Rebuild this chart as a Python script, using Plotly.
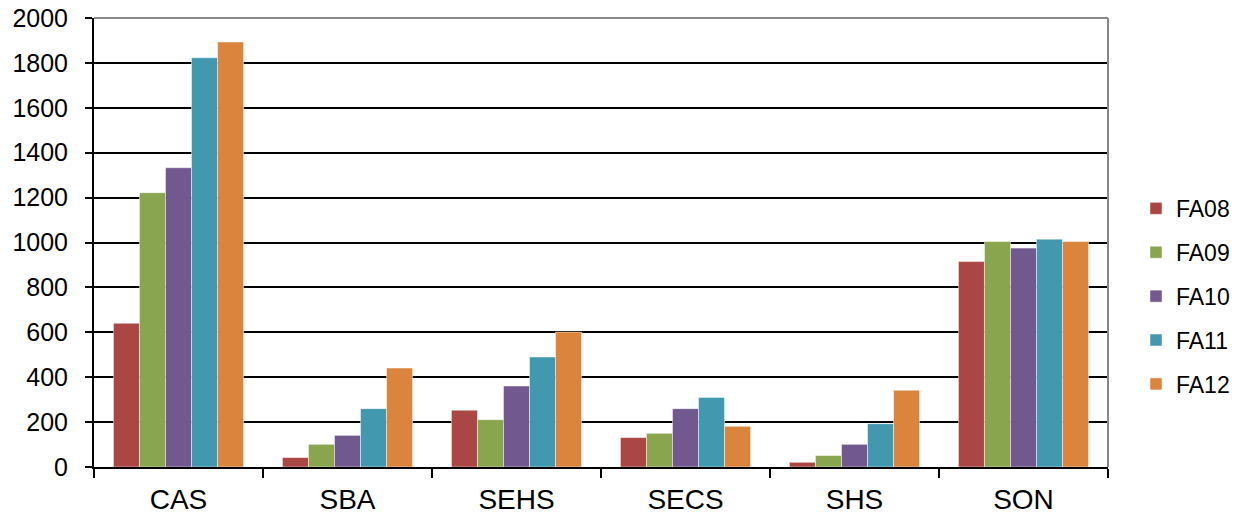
import plotly.graph_objects as go

categories = ["CAS", "SBA", "SEHS", "SECS", "SHS", "SON"]
series_names = ["FA08", "FA09", "FA10", "FA11", "FA12"]
fa08 = [640, 42, 253, 131, 21, 915]
fa09 = [1222, 101, 211, 150, 51, 1004]
fa10 = [1333, 141, 361, 260, 101, 975]
fa11 = [1823, 260, 490, 310, 193, 1015]
fa12 = [1893, 441, 601, 181, 342, 1004]
y_ticks = [0, 200, 400, 600, 800, 1000, 1200, 1400, 1600, 1800, 2000]

colors = ["#AA4643", "#89A54E", "#71588F", "#4198AF", "#DB843D"]
series = [fa08, fa09, fa10, fa11, fa12]

fig = go.Figure()
for name, vals, col in zip(series_names, series, colors):
    fig.add_trace(go.Bar(
        x=categories, y=vals, name=name, legendgroup=name,
        marker=dict(color=col, line=dict(color="rgba(255,255,255,0.6)", width=0.8)),
    ))

font_family = "Liberation Sans, Arial, sans-serif"
fig.update_layout(
    width=1242, height=519,
    margin=dict(l=94, r=134, t=18, b=52, autoexpand=False),
    paper_bgcolor="white", plot_bgcolor="white",
    barmode="group", bargap=0.23, bargroupgap=0,
    font=dict(family=font_family, color="black"),
    showlegend=True,
    legend=dict(
        x=1.0276, xanchor="left", y=0.38, yanchor="middle",
        font=dict(size=23, family=font_family),
        tracegroupgap=11, bgcolor="rgba(0,0,0,0)",
    ),
    xaxis=dict(
        showline=True, linecolor="black", linewidth=2,
        ticks="outside", tickson="boundaries", ticklen=9, tickwidth=2, tickcolor="black",
        tickfont=dict(size=28), showgrid=False, automargin=False,
        ticklabelstandoff=6,
    ),
    yaxis=dict(
        range=[0, 2000], tickvals=y_ticks,
        showline=True, linecolor="black", linewidth=2,
        ticks="outside", ticklen=7, tickwidth=2, tickcolor="black",
        tickfont=dict(size=25), automargin=False, ticklabelstandoff=12,
        ticklabeloverflow="allow",
        showgrid=True, gridcolor="black", gridwidth=2, zeroline=False,
    ),
)
# plot area frame: grey top and right edges
fig.add_shape(type="line", xref="paper", yref="paper", x0=0, x1=1, y0=1, y1=1,
              line=dict(color="#888888", width=2))
fig.add_shape(type="line", xref="paper", yref="paper", x0=1, x1=1, y0=0, y1=1,
              line=dict(color="#888888", width=2))

fig.write_html("out.html", config={"displayModeBar": False},
               post_script="document.body.style.margin='0';")
